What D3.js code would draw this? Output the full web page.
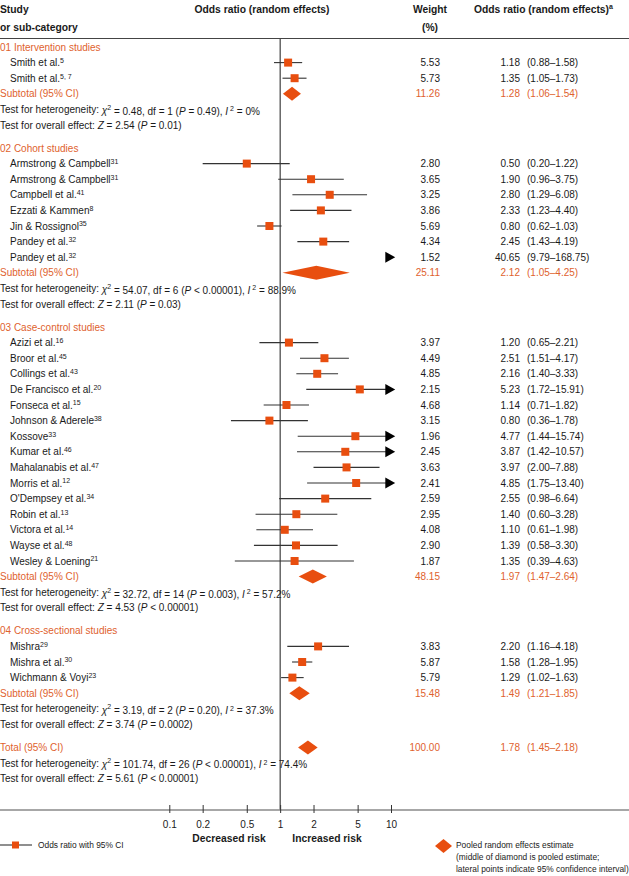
<!DOCTYPE html>
<html><head><meta charset="utf-8">
<script src="https://cdn.jsdelivr.net/npm/d3@7"></script>
<style>
body{margin:0;background:#fff}
text{font-family:"Liberation Sans Narrow","Arial Narrow",sans-serif;}
</style></head><body><svg id="c" width="629" height="876"></svg>
<script>
// ---------- DATA ----------
const groupNames = ["01 Intervention studies","02 Cohort studies","03 Case-control studies","04 Cross-sectional studies"];
const studyNames = [
  ["Smith et al.","Smith et al."],
  ["Armstrong & Campbell","Armstrong & Campbell","Campbell et al.","Ezzati & Kammen","Jin & Rossignol","Pandey et al.","Pandey et al."],
  ["Azizi et al.","Broor et al.","Collings et al.","De Francisco et al.","Fonseca et al.","Johnson & Aderele","Kossove","Kumar et al.","Mahalanabis et al.","Morris et al.","O'Dempsey et al.","Robin et al.","Victora et al.","Wayse et al.","Wesley & Loening"],
  ["Mishra","Mishra et al.","Wichmann & Voyi"]
];
const studyRefs = [
  ["5","5, 7"],
  ["31","31","41","8","35","32","32"],
  ["16","45","43","20","15","38","33","46","47","12","34","13","14","48","21"],
  ["29","30","23"]
];
const studyWeights = [
  [5.53,5.73],
  [2.80,3.65,3.25,3.86,5.69,4.34,1.52],
  [3.97,4.49,4.85,2.15,4.68,3.15,1.96,2.45,3.63,2.41,2.59,2.95,4.08,2.90,1.87],
  [3.83,5.87,5.79]
];
const studyOR = [
  [1.18,1.35],
  [0.50,1.90,2.80,2.33,0.80,2.45,40.65],
  [1.20,2.51,2.16,5.23,1.14,0.80,4.77,3.87,3.97,4.85,2.55,1.40,1.10,1.39,1.35],
  [2.20,1.58,1.29]
];
const studyLower = [
  [0.88,1.05],
  [0.20,0.96,1.29,1.23,0.62,1.43,9.79],
  [0.65,1.51,1.40,1.72,0.71,0.36,1.44,1.42,2.00,1.75,0.98,0.60,0.61,0.58,0.39],
  [1.16,1.28,1.02]
];
const studyUpper = [
  [1.58,1.73],
  [1.22,3.75,6.08,4.40,1.03,4.19,168.75],
  [2.21,4.17,3.33,15.91,1.82,1.78,15.74,10.57,7.88,13.40,6.64,3.28,1.98,3.30,4.63],
  [4.18,1.95,1.63]
];
const subtotalWeights = [11.26,25.11,48.15,15.48];
const subtotalOR = [1.28,2.12,1.97,1.49];
const subtotalLower = [1.06,1.05,1.47,1.21];
const subtotalUpper = [1.54,4.25,2.64,1.85];
const hetChi2 = ["0.48","54.07","32.72","3.19","101.74"];
const hetDf = ["1","6","14","2","26"];
const hetP = ["= 0.49","< 0.00001","= 0.003","= 0.20","< 0.00001"];
const hetI2 = ["0%","88.9%","57.2%","37.3%","74.4%"];
const zValues = ["2.54","2.11","4.53","3.74","5.61"];
const zP = ["= 0.01","= 0.03","< 0.00001","= 0.0002","< 0.00001"];
const totalWeight = 100.00, totalOR = 1.78, totalLower = 1.45, totalUpper = 2.18;
const tickValues = [0.1,0.2,0.5,1,2,5,10];
const tickLabels = ["0.1","0.2","0.5","1","2","5","10"];

// ---------- STYLE ----------
const ORANGE = "#e84e0f", ORANGE_T = "#e0622e", INK = "#1a1a1a";
const FS = 10, SUP = 7, LFS = 8.4;
const FONT = '"Liberation Sans Narrow","Arial Narrow",sans-serif';
const svg = d3.select("#c");
const x = d3.scaleLog().domain([0.1,10]).range([169.3,391]);
const CLIP = 10;

// ---------- ROWS ----------
const rows = [];
let y = 47; const STEP = 15.6, GAP = 7.4;
const f2 = d3.format(".2f");
groupNames.forEach((g,gi)=>{
  rows.push({type:"group", y, label:g}); y+=STEP;
  studyNames[gi].forEach((n,si)=>{
    rows.push({type:"study", y, label:n, ref:studyRefs[gi][si], w:studyWeights[gi][si],
      or:studyOR[gi][si], lo:studyLower[gi][si], hi:studyUpper[gi][si]}); y+=STEP;
  });
  rows.push({type:"sub", y, label:"Subtotal (95% CI)", w:subtotalWeights[gi], or:subtotalOR[gi], lo:subtotalLower[gi], hi:subtotalUpper[gi]}); y+=STEP;
  rows.push({type:"het", y, k:gi}); y+=STEP;
  rows.push({type:"z", y, k:gi}); y+=STEP+GAP;
});
rows.push({type:"sub", y, label:"Total (95% CI)", w:totalWeight, or:totalOR, lo:totalLower, hi:totalUpper}); y+=STEP;
rows.push({type:"het", y, k:4}); y+=STEP;
rows.push({type:"z", y, k:4});

// ---------- HEADER ----------
function hdr(t, xx, yy, anchor){
  return svg.append("text").attr("x",xx).attr("y",yy).attr("dy","0.35em").attr("text-anchor",anchor||"start")
    .attr("font-size",10.3).attr("font-weight","bold").attr("fill",INK).text(t);
}
hdr("Study",0,9); hdr("or sub-category",0,27);
hdr("Odds ratio (random effects)",262,9,"middle");
hdr("Weight",430,9,"middle"); hdr("(%)",430,27,"middle");
const h5 = hdr("Odds ratio (random effects)",474,9);
h5.append("tspan").attr("dy","-0.45em").attr("font-size",SUP).text("a");
svg.append("line").attr("x1",0).attr("x2",629).attr("y1",38.5).attr("y2",38.5).attr("stroke","#444").attr("stroke-width",1.2);

// vertical line of no effect
const AXY = 810;
svg.append("line").attr("x1",x(1)).attr("x2",x(1)).attr("y1",39).attr("y2",AXY).attr("stroke",INK).attr("stroke-width",1);

// ---------- TEXT ROWS ----------
rows.forEach(r=>{
  if(r.type==="group" || r.type==="sub"){
    svg.append("text").attr("x",0).attr("y",r.y).attr("dy","0.35em").attr("font-size",FS).attr("fill",ORANGE_T).text(r.label);
  } else if(r.type==="study"){
    const t = svg.append("text").attr("x",10).attr("y",r.y).attr("dy","0.35em").attr("font-size",FS).attr("fill",INK);
    t.append("tspan").text(r.label);
    t.append("tspan").attr("font-size",SUP).attr("dy","-0.45em").text(r.ref);
  } else if(r.type==="het"){
    const k=r.k;
    const t = svg.append("text").attr("x",0).attr("y",r.y).attr("dy","0.35em").attr("font-size",FS).attr("fill",INK);
    t.append("tspan").text("Test for heterogeneity: ");
    t.append("tspan").attr("font-style","italic").attr("dy","0.15em").text("χ");
    t.append("tspan").attr("font-size",SUP).attr("dy","-0.65em").text("2");
    t.append("tspan").attr("dy","0.5em").text(` = ${hetChi2[k]}, df = ${hetDf[k]} (`);
    t.append("tspan").attr("font-style","italic").text("P");
    t.append("tspan").text(` ${hetP[k]}), `);
    t.append("tspan").attr("font-style","italic").text("I");
    t.append("tspan").attr("font-size",SUP).attr("dy","-0.5em").text(" 2");
    t.append("tspan").attr("dy","0.35em").text(` = ${hetI2[k]}`);
  } else if(r.type==="z"){
    const k=r.k;
    const t = svg.append("text").attr("x",0).attr("y",r.y).attr("dy","0.35em").attr("font-size",FS).attr("fill",INK);
    t.append("tspan").text("Test for overall effect: ");
    t.append("tspan").attr("font-style","italic").text("Z");
    t.append("tspan").text(` = ${zValues[k]} (`);
    t.append("tspan").attr("font-style","italic").text("P");
    t.append("tspan").text(` ${zP[k]})`);
  }
  if(r.type==="study"||r.type==="sub"){
    const col = r.type==="sub"?ORANGE_T:INK;
    svg.append("text").attr("x",440).attr("y",r.y).attr("dy","0.35em").attr("text-anchor","end").attr("font-size",FS).attr("fill",col).text(f2(r.w));
    svg.append("text").attr("x",520).attr("y",r.y).attr("dy","0.35em").attr("text-anchor","end").attr("font-size",FS).attr("fill",col).text(f2(r.or));
    svg.append("text").attr("x",527).attr("y",r.y).attr("dy","0.35em").attr("font-size",FS).attr("fill",col).text(`(${f2(r.lo)}–${f2(r.hi)})`);
  }
});

// ---------- MARKS ----------
const studies = rows.filter(r=>r.type==="study");
const subs = rows.filter(r=>r.type==="sub");
const SQ = 8;
svg.append("g").selectAll("line").data(studies).join("line")
  .attr("x1",d=>x(Math.max(d.lo,0.1))).attr("x2",d=>x(Math.min(d.hi,CLIP)))
  .attr("y1",d=>d.y).attr("y2",d=>d.y).attr("stroke","#333").attr("stroke-width",1.1);
svg.append("g").selectAll("rect").data(studies.filter(d=>d.or<=CLIP)).join("rect")
  .attr("x",d=>x(d.or)-SQ/2).attr("y",d=>d.y-SQ/2).attr("width",SQ).attr("height",SQ).attr("fill",ORANGE);
svg.append("g").selectAll("path").data(studies.filter(d=>d.hi>CLIP)).join("path")
  .attr("d",d=>{const b=x(CLIP)-5.7, t=x(CLIP)+4.2; return `M${b},${d.y-5.5}L${t},${d.y}L${b},${d.y+5.5}Z`;})
  .attr("fill","#000");
svg.append("g").selectAll("path").data(subs).join("path")
  .attr("d",d=>`M${x(d.lo)},${d.y}L${x(d.or)},${d.y-7}L${x(d.hi)},${d.y}L${x(d.or)},${d.y+7}Z`)
  .attr("fill",ORANGE);

// ---------- AXIS ----------
svg.append("line").attr("x1",0).attr("x2",629).attr("y1",AXY).attr("y2",AXY).attr("stroke","#8a8a8a").attr("stroke-width",1.3);
const ax = svg.append("g").attr("transform",`translate(0,${AXY})`)
  .call(d3.axisBottom(x).tickValues(tickValues).tickFormat((d,i)=>tickLabels[i]).tickSize(3).tickPadding(8));
ax.select(".domain").remove();
ax.selectAll(".tick line").attr("y1",-5).attr("y2",3).attr("stroke","#333");
ax.selectAll(".tick text").attr("font-size",FS).attr("fill",INK).attr("font-family",FONT);
svg.append("text").attr("x",229).attr("y",838).attr("dy","0.35em").attr("text-anchor","middle").attr("font-size",10.3).attr("font-weight","bold").attr("fill",INK).text("Decreased risk");
svg.append("text").attr("x",327).attr("y",838).attr("dy","0.35em").attr("text-anchor","middle").attr("font-size",10.3).attr("font-weight","bold").attr("fill",INK).text("Increased risk");

// ---------- LEGEND ----------
const LY = 845;
svg.append("line").attr("x1",0).attr("x2",32).attr("y1",LY).attr("y2",LY).attr("stroke","#333").attr("stroke-width",1.1);
svg.append("rect").attr("x",12).attr("y",LY-3.5).attr("width",7).attr("height",7).attr("fill",ORANGE);
svg.append("text").attr("x",38).attr("y",LY).attr("dy","0.35em").attr("font-size",LFS).attr("fill",INK).text("Odds ratio with 95% CI");
svg.append("path").attr("d",`M435,${LY+1}L443.5,${LY-6}L452,${LY+1}L443.5,${LY+8}Z`).attr("fill",ORANGE);
["Pooled random effects estimate","(middle of diamond is pooled estimate;","lateral points indicate 95% confidence interval)"].forEach((t,i)=>{
  svg.append("text").attr("x",456).attr("y",845+i*12).attr("dy","0.35em").attr("font-size",LFS).attr("fill",INK).text(t);
});
</script></body></html>
